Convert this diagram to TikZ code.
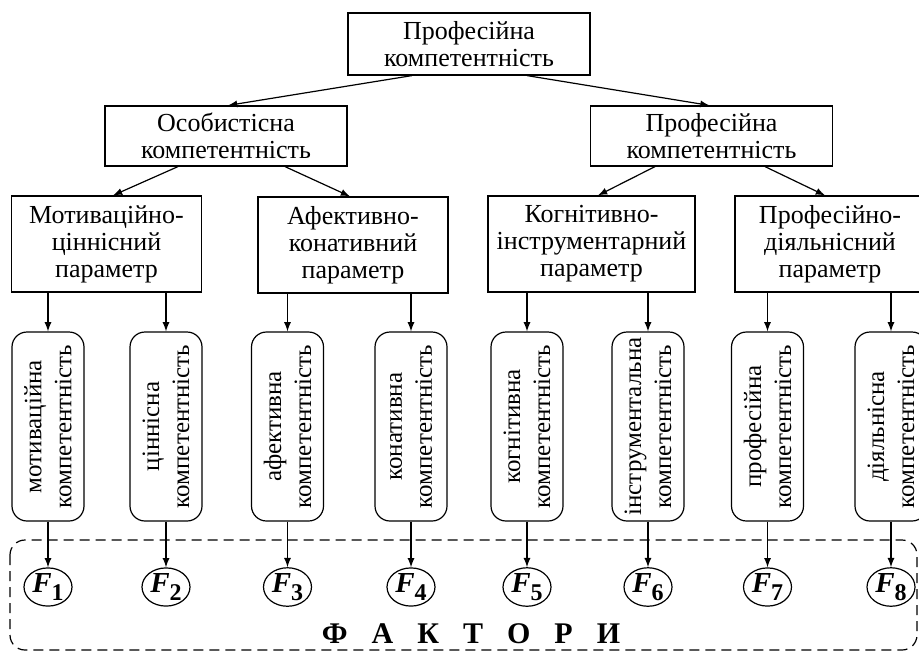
\documentclass[tikz,border=0pt]{standalone}
\usepackage{fontspec}
\setmainfont{Liberation Serif}
\usepackage{tikz}
\usetikzlibrary{arrows,calc,shapes.geometric}

\tikzset{
  box/.style={draw, line width=0.6pt, inner sep=0pt, align=center,
    font=\fontsize{13}{13.5}\selectfont},
  kbox/.style={draw, line width=0.6pt, rounded corners=7.5pt, rotate=90,
    minimum width=94.5pt, minimum height=36pt, inner sep=0pt, align=center,
    font=\fontsize{12.5}{15}\selectfont},
  fcirc/.style={draw, ellipse, line width=0.6pt, minimum width=24pt,
    minimum height=18pt, inner sep=0pt,
    font=\fontsize{14.5}{14.5}\selectfont\bfseries\itshape},
}
\newcommand{\fsub}[1]{F\raisebox{-0.6ex}{\upshape\fontsize{12}{12}\selectfont #1}}

\begin{document}
\begin{tikzpicture}[x=0.5pt, y=-0.5pt, >=latex]
        \useasboundingbox (0,0) rectangle (919,653);

        % levels 1 and 2
        \node[box, minimum width=121pt, minimum height=31pt] (top) at (469,44) {Професійна\\компетентність};
        \node[box, minimum width=121pt, minimum height=30pt] (osob) at (226,136) {Особистісна\\компетентність};
        \node[box, minimum width=121pt, minimum height=30pt] (prof) at (711.5,136) {Професійна\\компетентність};

        \draw[->, line width=0.6pt] ($(top.south)+(-57,0)$) -- ($(osob.north)+(2,0)$);
        \draw[->, line width=0.6pt] ($(top.south)+(58,0)$) -- ($(prof.north)+(-2,0)$);

        % parameters
        \node[box, minimum width=95pt, minimum height=48pt] (mot) at (106.5,244) {Мотиваційно-\\ціннісний\\параметр};
        \node[box, minimum width=95pt, minimum height=48pt] (afek) at (353,245) {Афективно-\\конативний\\параметр};
        \node[box, minimum width=103.5pt, minimum height=48pt] (kogn) at (591.5,244) {Когнітивно-\\інструментарний\\параметр};
        \node[box, minimum width=95pt, minimum height=48pt] (diial) at (830,244) {Професійно-\\діяльнісний\\параметр};

        \draw[->, line width=0.6pt] ($(osob.south)+(-48,0)$) -- ($(mot.north)+(6.5,0)$);
        \draw[->, line width=0.6pt] ($(osob.south)+(59,0)$) -- ($(afek.north)+(-3,0)$);
        \draw[->, line width=0.6pt] ($(prof.south)+(-56.5,0)$) -- ($(kogn.north)+(6.5,0)$);
        \draw[->, line width=0.6pt] ($(prof.south)+(53.5,0)$) -- ($(diial.north)+(-5,0)$);

        % competences (rotated, so east is the top and west the bottom)
        \node[kbox] (k1) at (48,426.5) {мотиваційна\\компетентність};
        \node[kbox] (k2) at (166,426.5) {ціннісна\\компетентність};
        \node[kbox] (k3) at (287.5,426.5) {афективна\\компетентність};
        \node[kbox] (k4) at (411,426.5) {конативна\\компетентність};
        \node[kbox] (k5) at (527,426.5) {когнітивна\\компетентність};
        \node[kbox] (k6) at (648,426.5) {інструментальна\\компетентність};
        \node[kbox] (k7) at (767.5,426.5) {професійна\\компетентність};
        \node[kbox] (k8) at (891,426.5) {діяльнісна\\компетентність};

        \draw[->, line width=0.6pt] (mot.south -| k1.east) -- (k1.east);
        \draw[->, line width=0.6pt] (mot.south -| k2.east) -- (k2.east);
        \draw[->, line width=0.6pt] (afek.south -| k3.east) -- (k3.east);
        \draw[->, line width=0.6pt] (afek.south -| k4.east) -- (k4.east);
        \draw[->, line width=0.6pt] (kogn.south -| k5.east) -- (k5.east);
        \draw[->, line width=0.6pt] (kogn.south -| k6.east) -- (k6.east);
        \draw[->, line width=0.6pt] (diial.south -| k7.east) -- (k7.east);
        \draw[->, line width=0.6pt] (diial.south -| k8.east) -- (k8.east);

        % factors
        \draw[line width=0.6pt, dash pattern=on 5pt off 3pt, rounded corners=7.5pt] (10,540) rectangle (917,650);

        \node[fcirc] (f1) at (48,587) {\fsub{1}};
        \node[fcirc] (f2) at (166,587) {\fsub{2}};
        \node[fcirc] (f3) at (287.5,587) {\fsub{3}};
        \node[fcirc] (f4) at (411,587) {\fsub{4}};
        \node[fcirc] (f5) at (527,587) {\fsub{5}};
        \node[fcirc] (f6) at (648,587) {\fsub{6}};
        \node[fcirc] (f7) at (767.5,587) {\fsub{7}};
        \node[fcirc] (f8) at (891,587) {\fsub{8}};

        \draw[->, line width=0.6pt] (k1.west) -- (f1.north);
        \draw[->, line width=0.6pt] (k2.west) -- (f2.north);
        \draw[->, line width=0.6pt] (k3.west) -- (f3.north);
        \draw[->, line width=0.6pt] (k4.west) -- (f4.north);
        \draw[->, line width=0.6pt] (k5.west) -- (f5.north);
        \draw[->, line width=0.6pt] (k6.west) -- (f6.north);
        \draw[->, line width=0.6pt] (k7.west) -- (f7.north);
        \draw[->, line width=0.6pt] (k8.west) -- (f8.north);

        \node[font=\fontsize{15}{15}\selectfont\bfseries] (fakt) at (471,634) {Ф\hspace{12pt}А\hspace{12pt}К\hspace{12pt}Т\hspace{12pt}О\hspace{12pt}Р\hspace{12pt}И};
        \end{tikzpicture}
\end{document}
